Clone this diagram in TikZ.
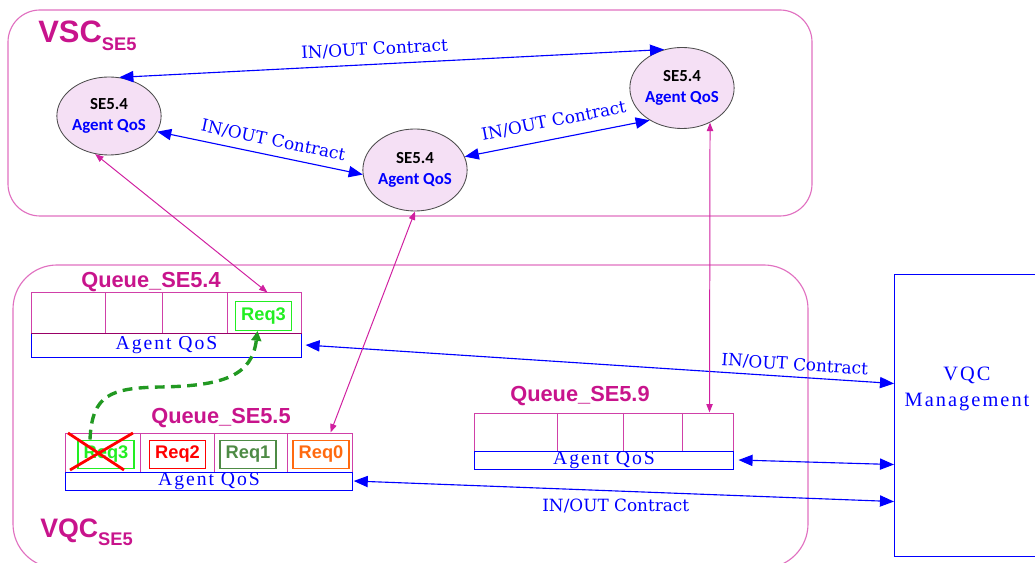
\documentclass[tikz,border=0pt]{standalone}
\usepackage{fontspec}
\setmainfont{Liberation Serif}
\newfontfamily\headfont{Liberation Sans}
\newfontfamily\agfont{Carlito}
\newfontfamily\ctfont{DejaVu Serif}
\newfontfamily\qosfont[LetterSpace=10]{Liberation Serif}
\usepackage{tikz}
\usetikzlibrary{shapes.geometric,arrows.meta}
\definecolor{grpc}{HTML}{E070C0}
\definecolor{titc}{HTML}{C8148C}
\definecolor{qrowc}{HTML}{D040A8}
\definecolor{elfill}{HTML}{F5E0F5}
\definecolor{lnk}{HTML}{D020A0}
\definecolor{reqg}{HTML}{22EE22}
\definecolor{reqd}{HTML}{4E8B45}
\definecolor{reqo}{HTML}{FF6A10}
\definecolor{dashg}{HTML}{229922}
\begin{document}
\begin{tikzpicture}[x=0.025cm,y=-0.025cm]
                      \tikzstyle{grp}=[draw=grpc,line width=0.8pt]
                      \tikzstyle{agent}=[ellipse,draw=black!70,fill=elfill,line width=0.6pt,text=blue,align=center,inner sep=0pt,font={\agfont\bfseries\fontsize{12}{15.5}\selectfont}]
                      \tikzstyle{qtitle}=[anchor=base,inner sep=0pt,text=titc,font={\headfont\bfseries\fontsize{15.5}{18}\selectfont}]
                      \tikzstyle{qrow}=[draw=qrowc,line width=0.7pt,inner sep=0pt]
                      \tikzstyle{qbar}=[draw=blue,line width=0.7pt,text=blue,inner sep=0pt,font={\qosfont\fontsize{14}{15}\selectfont}]
                      \tikzstyle{req}=[draw,line width=0.8pt,minimum width=1.4cm,minimum height=0.72cm,inner sep=0pt,font={\headfont\bfseries\fontsize{13}{15}\selectfont}]
                      \tikzstyle{contract}=[blue,line width=0.8pt,>={Triangle[length=10pt,width=8pt]},<->]
                      \tikzstyle{ctlabel}=[text=blue,font={\ctfont\fontsize{12}{14}\selectfont}]
                      \tikzstyle{link}=[draw=lnk,line width=0.7pt,>={Triangle[length=6pt,width=4.5pt]},<->]
                      \useasboundingbox (0,0) rectangle (1035,563);
                      % VSC
                      \draw[grp,rounded corners=0.8cm] (8,10) rectangle (812,216);
                      \node[anchor=base west,inner sep=0pt,text=titc,font=\headfont\bfseries] (vsc) at (38,43) {\fontsize{22}{26}\selectfont VSC\raisebox{-5pt}{\fontsize{13}{15}\selectfont SE5}};
                      \node[agent,minimum width=2.3cm,minimum height=1.95cm] (e1) at (109,116) {\textcolor{black}{SE5.4}\\Agent QoS};
                      \node[agent,minimum width=2.375cm,minimum height=2.05cm] (e2) at (415,170) {\textcolor{black}{SE5.4}\\Agent QoS};
                      \node[agent,minimum width=2.325cm,minimum height=2.025cm] (e3) at (682,88) {\textcolor{black}{SE5.4}\\Agent QoS};
                      \draw[contract] (e1.75) -- (e3.115) node[pos=0.47,above=2pt,sloped,ctlabel] {IN/OUT Contract};
                      \draw[contract] (e1.-18) -- (e2.185) node[pos=0.55,above=2pt,sloped,ctlabel] {IN/OUT Contract};
                      \draw[contract] (e2.15) -- (e3.-135) node[midway,above=4pt,sloped,ctlabel] {IN/OUT Contract};
                      % VQC
                      \draw[grp,rounded corners=1.1cm] (13,265) rectangle (808,568);
                      \node[anchor=base west,inner sep=0pt,text=titc,font=\headfont\bfseries] (vqc0) at (40,538) {\fontsize{19}{23}\selectfont VQC\raisebox{-5pt}{\fontsize{13}{15}\selectfont SE5}};
                      % queue SE5.4
                      \node[qtitle] (qla) at (151,288) {Queue\_SE5.4};
                      \node[qrow,minimum width=6.725cm,minimum height=1cm] (qa) at (166.5,313) {};
                      \foreach \x in {105,162,227} \draw[qrowc,line width=0.7pt] (\x,293) -- (\x,333);
                      \node[qbar,minimum width=6.725cm,minimum height=0.6cm] (qaa) at (166.5,345) {Agent QoS};
                      \draw[purple!80!blue,line width=1.2pt] (qa.south west) -- (qa.south east);
                      \node[req,draw=reqg,text=reqg] (r4) at (263.5,316) {Req3};
                      % queue SE5.5
                      \node[qtitle] (qlb) at (221,424) {Queue\_SE5.5};
                      \node[qrow,minimum width=7.15cm,minimum height=0.975cm] (qb) at (209,452.5) {};
                      \foreach \x in {140,214,287} \draw[qrowc,line width=0.7pt] (\x,433) -- (\x,472);
                      \node[qbar,minimum width=7.15cm,minimum height=0.45cm] (qbb) at (209,481) {Agent QoS};
                      \node[req,draw=reqg,text=reqg] (rx) at (106,454.5) {Req3};
                      \node[req,draw=red,text=red] (r2) at (177.5,454.5) {Req2};
                      \node[req,draw=reqd,text=reqd] (r1) at (248,454.5) {Req1};
                      \node[req,draw=reqo,text=reqo] (r0) at (321,454.5) {Req0};
                      \draw[red,line width=2pt] (68,433) -- (124,470) (70,470) -- (133,433);
                      % queue SE5.9
                      \node[qtitle] (qlc) at (580,402) {Queue\_SE5.9};
                      \node[qrow,minimum width=6.45cm,minimum height=0.95cm] (qc) at (604,432) {};
                      \foreach \x in {557,623,682} \draw[qrowc,line width=0.7pt] (\x,413) -- (\x,451);
                      \node[qbar,minimum width=6.45cm,minimum height=0.45cm] (qcc) at (604,460) {Agent QoS};
                      % moved request
                      \draw[dashg,line width=2.4pt,dash pattern=on 7pt off 4.5pt,>={Triangle[length=7pt,width=7pt]},->] ([xshift=-0.4cm]rx.north) .. controls (92,395) and (110,388) .. (160,387) .. controls (225,386) and (252,375) .. ([xshift=-0.15cm]r4.south);
                      % VQC management
                      \node[draw=blue,line width=0.7pt,anchor=north west,minimum width=3.65cm,minimum height=7.05cm,inner sep=0pt] (vqc) at (894,274) {};
                      \node[text=blue,align=center,font={\qosfont\fontsize{14.5}{18.5}\selectfont}] (vqct) at (967,389) {VQC\\Management};
                      \draw[contract] ([xshift=0.1cm]qaa.east) -- ([yshift=0.8cm]vqc.west) node[pos=0.83,above,sloped,ctlabel] {IN/OUT Contract};
                      \draw[contract] ([xshift=0.125cm]qcc.east) -- ([yshift=-1.225cm]vqc.west);
                      \draw[contract] ([xshift=0.03cm]qbb.east) -- ([yshift=-2.15cm]vqc.west) node[pos=0.485,below=2pt,ctlabel] {IN/OUT Contract};
                      % agent links
                      \draw[link] (e1.-110) -- ([xshift=-0.85cm]qa.north east);
                      \draw[link] (e2.south) -- ([xshift=-0.55cm]qb.north east);
                      \draw[link] (e3.-51) -- ([xshift=-0.6cm]qc.north east);
                  \end{tikzpicture}
\end{document}
